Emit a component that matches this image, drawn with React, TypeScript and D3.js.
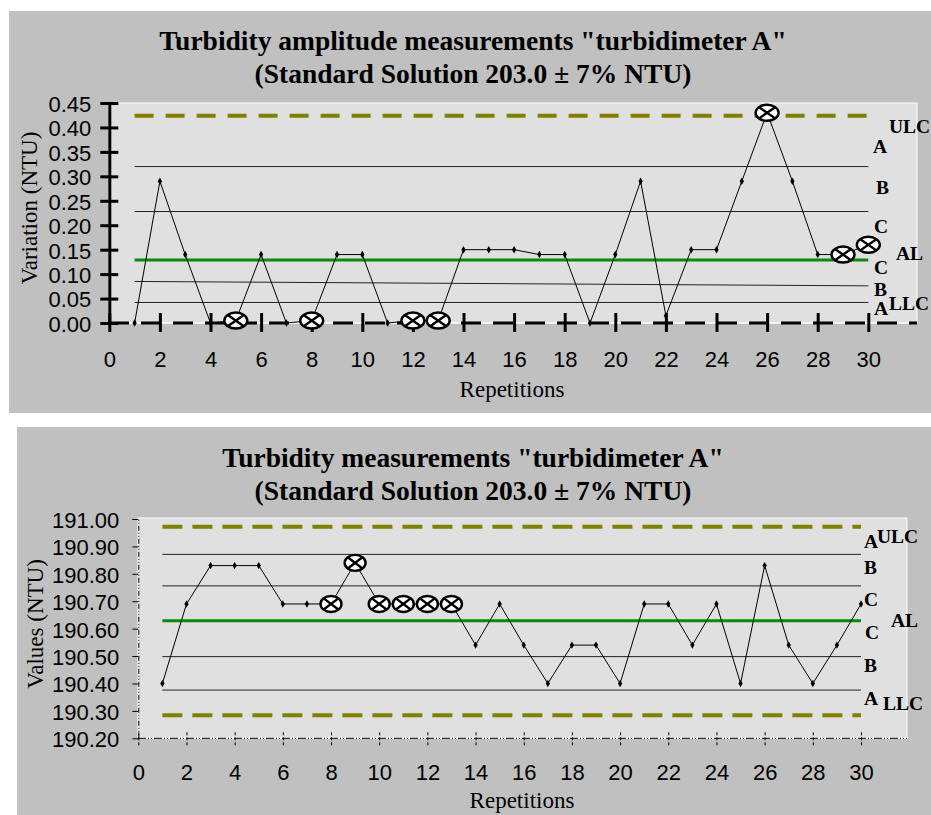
import React, { useRef, useEffect } from 'react';
import * as d3 from 'd3';

// repetitions 1..30
const repetitions = [1, 2, 3, 4, 5, 6, 7, 8, 9, 10, 11, 12, 13, 14, 15, 16, 17, 18, 19, 20, 21, 22, 23, 24, 25, 26, 27, 28, 29, 30];
const xTicks = [0, 2, 4, 6, 8, 10, 12, 14, 16, 18, 20, 22, 24, 26, 28, 30];

// chart 1: amplitude (variation)
const amplitude = [0.00, 0.29, 0.14, 0.00, 0.005, 0.14, 0.00, 0.005, 0.14, 0.14, 0.00, 0.005, 0.005, 0.15, 0.15, 0.15, 0.14, 0.14, 0.00, 0.14, 0.29, 0.015, 0.15, 0.15, 0.29, 0.43, 0.29, 0.14, 0.14, 0.16];
const amplitudeFlagged = [5, 8, 12, 13, 26, 29, 30];
const amplitudeTicks = [0, 0.05, 0.1, 0.15, 0.2, 0.25, 0.3, 0.35, 0.4, 0.45];
const amplitudeLimits = [0.424];
const amplitudeCenter = 0.129;
// zone lines: [value at rep 1, value at rep 30]
const amplitudeZones = [[0.32, 0.32], [0.228, 0.228], [0.085, 0.076], [0.042, 0.042]];

// chart 2: values
const values = [190.40, 190.69, 190.83, 190.83, 190.83, 190.69, 190.69, 190.69, 190.84, 190.69, 190.69, 190.69, 190.69, 190.54, 190.69, 190.54, 190.40, 190.54, 190.54, 190.40, 190.69, 190.69, 190.54, 190.69, 190.40, 190.83, 190.54, 190.40, 190.54, 190.69];
const valueFlagged = [8, 9, 10, 11, 12, 13];
const valueTicks = [190.2, 190.3, 190.4, 190.5, 190.6, 190.7, 190.8, 190.9, 191.0];
const valueLimits = [190.972, 190.284];
const valueCenter = 190.629;
const valueZones = [[190.871, 190.871], [190.756, 190.756], [190.498, 190.498], [190.376, 190.376]];

const serif = '"Liberation Serif", "Times New Roman", serif';
const sans = '"Liberation Sans", Arial, sans-serif';

const drawChart = (svg, c) => {
    const g = svg.append('g');
    const x = d3.scaleLinear().domain([0, 30]).range(c.xRange);
    const y = d3.scaleLinear().domain(c.yDomain).range(c.yRange);

    g.append('rect').attr('x', c.panel[0]).attr('y', c.panel[1]).attr('width', c.panel[2]).attr('height', c.panel[3]).attr('fill', '#c0c0c0');
    g.append('rect').attr('x', c.plot[0]).attr('y', c.plot[1]).attr('width', c.plot[2]).attr('height', c.plot[3])
        .attr('fill', '#e0e0e0').attr('stroke', '#fff').attr('stroke-width', 1);

    // titles
    c.title.forEach((t, i) => {
        g.append('text').attr('x', 473).attr('y', c.titleY[i]).attr('text-anchor', 'middle')
            .attr('font-family', serif).attr('font-weight', 'bold').attr('font-size', 27.5).text(t);
    });

    // control lines
    const x1 = x(repetitions[0]), x2 = x(repetitions[repetitions.length - 1]);
    c.zones.forEach(z => {
        g.append('line').attr('x1', x1).attr('x2', x2).attr('y1', y(z[0])).attr('y2', y(z[1]))
            .attr('stroke', '#222').attr('stroke-width', 1);
    });
    g.append('line').attr('x1', x1).attr('x2', x2).attr('y1', y(c.center)).attr('y2', y(c.center))
        .attr('stroke', '#0a8a0a').attr('stroke-width', 3);
    c.limits.forEach(v => {
        g.append('line').attr('x1', x1).attr('x2', x2).attr('y1', y(v)).attr('y2', y(v))
            .attr('stroke', '#808000').attr('stroke-width', 4).attr('stroke-dasharray', c.bold ? '19,12' : '20,10');
    });

    // axes
    const xAxis = g.append('g').attr('transform', `translate(0,${c.yRange[0]})`)
        .call(d3.axisBottom(x).tickValues(xTicks).tickSizeOuter(0));
    xAxis.select('.domain').remove();
    xAxis.insert('line', ':first-child').attr('x1', c.plot[0]).attr('x2', c.plot[0] + c.plot[2]).attr('stroke', '#fff').attr('stroke-width', 1);
    xAxis.insert('line', ':nth-child(2)').attr('x1', c.plot[0]).attr('x2', c.plot[0] + c.plot[2])
        .attr('stroke', '#000').attr('stroke-width', c.bold ? 3 : 1).attr('stroke-dasharray', c.bold ? '20,12' : '8,2,1,2,1,2');
    xAxis.selectAll('.tick line').attr('y1', c.bold ? -10 : -6).attr('y2', c.bold ? 9 : 7)
        .attr('stroke', '#000').attr('stroke-width', c.bold ? 3 : 1).attr('stroke-dasharray', c.bold ? null : '3,2');
    xAxis.selectAll('.tick text').attr('y', c.xLabelOffset).attr('dy', 0)
        .attr('font-family', sans).attr('font-size', 22).attr('fill', '#000');

    const yAxis = g.append('g').attr('transform', `translate(${c.xRange[0]},0)`)
        .call(d3.axisLeft(y).tickValues(c.yTicks).tickFormat(d3.format('.2f')).tickSizeOuter(0));
    yAxis.select('.domain').attr('stroke', '#000').attr('stroke-width', c.bold ? 3 : 1)
        .attr('stroke-dasharray', c.bold ? null : '5,2,1,2,1,2');
    yAxis.selectAll('.tick line').attr('x1', c.bold ? -9 : -6).attr('x2', c.bold ? 9 : 0)
        .attr('stroke', '#000').attr('stroke-width', c.bold ? 3 : 1);
    yAxis.selectAll('.tick text').attr('x', c.yLabelOffset).attr('dy', '0.38em')
        .attr('font-family', sans).attr('font-size', 22).attr('fill', '#000');

    // data line
    const line = d3.line().x((d, i) => x(repetitions[i])).y(d => y(d));
    g.append('path').datum(c.data).attr('d', line).attr('fill', 'none').attr('stroke', '#000').attr('stroke-width', 1);

    const pts = c.data.map((v, i) => ({ r: repetitions[i], v }));
    g.selectAll('.pt').data(pts.filter(p => !c.flagged.includes(p.r))).join('path')
        .attr('transform', p => `translate(${x(p.r)},${y(p.v)})`)
        .attr('d', d3.symbol(d3.symbolDiamond, 16)).attr('fill', '#000');

    const flag = g.selectAll('.flag').data(pts.filter(p => c.flagged.includes(p.r))).join('g')
        .attr('transform', p => `translate(${x(p.r)},${y(p.v)})`);
    const rx = c.bold ? 11.5 : 10.5, ry = 8;
    flag.append('ellipse').attr('rx', rx).attr('ry', ry).attr('fill', '#fff').attr('stroke', '#000').attr('stroke-width', 2.4);
    flag.append('path').attr('d', `M${-rx * 0.7},${-ry * 0.7}L${rx * 0.7},${ry * 0.7}M${rx * 0.7},${-ry * 0.7}L${-rx * 0.7},${ry * 0.7}`)
        .attr('stroke', '#000').attr('stroke-width', 2.4);

    // axis titles
    g.append('text').attr('transform', `translate(${c.yTitlePos[0]},${c.yTitlePos[1]}) rotate(-90)`)
        .attr('text-anchor', 'middle').attr('font-family', serif).attr('font-size', 23).text(c.yTitle);
    g.append('text').attr('x', c.xTitlePos[0]).attr('y', c.xTitlePos[1])
        .attr('text-anchor', 'middle').attr('font-family', serif).attr('font-size', 23).text('Repetitions');

    // zone labels
    c.labels.forEach(l => {
        g.append('text').attr('x', l[1]).attr('y', l[2]).attr('font-family', serif).attr('font-weight', 'bold')
            .attr('font-size', 19.5).text(l[0]);
    });
};

const App = () => {
    const chartRef = useRef();

    useEffect(() => {
        const svg = d3.select(chartRef.current);
        svg.selectAll('*').remove();

        drawChart(svg, {
            bold: true,
            panel: [9, 11, 922, 402],
            plot: [109, 103, 808, 220],
            xRange: [109.3, 868.3],
            yDomain: [0, 0.45],
            yRange: [323, 103],
            yTicks: amplitudeTicks,
            data: amplitude,
            flagged: amplitudeFlagged,
            zones: amplitudeZones,
            center: amplitudeCenter,
            limits: amplitudeLimits,
            title: ['Turbidity amplitude measurements "turbidimeter A"', '(Standard Solution 203.0 \u00b1 7% NTU)'],
            titleY: [50, 83],
            xLabelOffset: 44,
            yLabelOffset: -18,
            yTitle: 'Variation (NTU)',
            yTitlePos: [37, 208],
            xTitlePos: [512, 397],
            labels: [['ULC', 889, 133], ['A', 873, 153], ['B', 876, 194], ['C', 874, 233], ['AL', 896, 260],
                ['C', 874, 274], ['B', 874, 296], ['A', 874, 315], ['LLC', 889, 310]],
        });

        drawChart(svg, {
            bold: false,
            panel: [17, 427, 914, 388],
            plot: [138, 518, 769, 220],
            xRange: [138.3, 861],
            yDomain: [190.2, 191.0],
            yRange: [738.3, 519],
            yTicks: valueTicks,
            data: values,
            flagged: valueFlagged,
            zones: valueZones,
            center: valueCenter,
            limits: valueLimits,
            title: ['Turbidity measurements "turbidimeter A"', '(Standard Solution 203.0 \u00b1 7% NTU)'],
            titleY: [467, 500],
            xLabelOffset: 42,
            yLabelOffset: -19,
            yTitle: 'Values (NTU)',
            yTitlePos: [43, 624],
            xTitlePos: [522, 808],
            labels: [['A', 864, 548], ['ULC', 877, 543], ['B', 864, 574], ['C', 864, 606], ['AL', 891, 627],
                ['C', 865, 639], ['B', 864, 672], ['A', 864, 705], ['LLC', 883, 710]],
        });
    }, []);

    return (
        <svg ref={chartRef} width={931} height={815} style={{ position: 'absolute', left: 0, top: 0 }}></svg>
    );
};

export default App;
